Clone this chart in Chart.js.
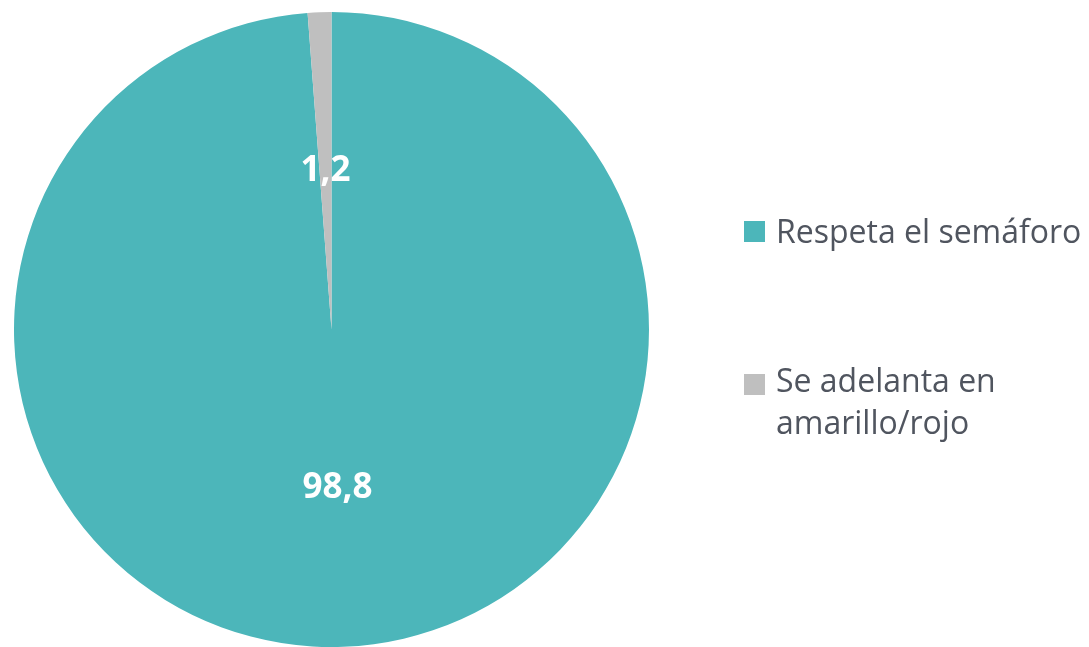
<!DOCTYPE html>
<html>
<head>
<meta charset="utf-8">
<script src="https://cdn.jsdelivr.net/npm/chart.js@4.4.1/dist/chart.umd.min.js"></script>
<style>
  body { margin: 0; background: #fff; }
  #wrap { position: relative; width: 1089px; height: 647px; }
  #legend { position: absolute; left: 744px; top: 0; font-family: "Open Sans", sans-serif; font-size: 32px; color: #50555f; }
  .item { position: absolute; left: 0; white-space: nowrap; line-height: 42px; }
  .box { position: absolute; left: 0; width: 21px; height: 21px; }
  .txt { position: absolute; left: 32px; }
</style>
</head>
<body>
<div id="wrap">
  <canvas id="pieChart" width="1089" height="647"></canvas>
  <div id="legend"></div>
</div>
<script>
const categories = ['Respeta el semáforo', 'Se adelanta en amarillo/rojo'];
const legendLines = [['Respeta el semáforo'], ['Se adelanta en', 'amarillo/rojo']];
const values = [98.8, 1.2];
const colors = ['#4cb6ba', '#bfbfbf'];

const valueLabels = {
    id: 'valueLabels',
    afterDatasetsDraw(chart) {
        const ctx = chart.ctx;
        ctx.save();
        ctx.font = 'bold 35px "Open Sans", sans-serif';
        ctx.fillStyle = '#ffffff';
        ctx.textAlign = 'center';
        ctx.textBaseline = 'middle';
        chart.getDatasetMeta(0).data.forEach((arc, i) => {
            const p = arc.getCenterPoint();
            ctx.fillText(values[i].toFixed(1).replace('.', ','), p.x, p.y);
        });
        ctx.restore();
    }
};

function buildLegend() {
    const legend = document.getElementById('legend');
    const tops = [210, 359];
    legend.innerHTML = legendLines.map((lines, i) => `
        <div class="item" style="top:${tops[i]}px">
            <div class="box" style="background:${colors[i]};top:${i === 0 ? 11 : 15}px"></div>
            <div class="txt">${lines.join('<br>')}</div>
        </div>
    `).join('');
}

document.addEventListener('DOMContentLoaded', () => {
    new Chart(document.getElementById('pieChart'), {
        type: 'pie',
        data: {
            labels: categories,
            datasets: [{
                data: values,
                backgroundColor: colors,
                borderWidth: 0
            }]
        },
        options: {
            responsive: false,
            animation: false,
            layout: { padding: { top: 12, bottom: 0, left: 13, right: 439 } },
            plugins: {
                legend: { display: false },
                tooltip: { enabled: false }
            }
        },
        plugins: [valueLabels]
    });
    buildLegend();
});
</script>
</body>
</html>
